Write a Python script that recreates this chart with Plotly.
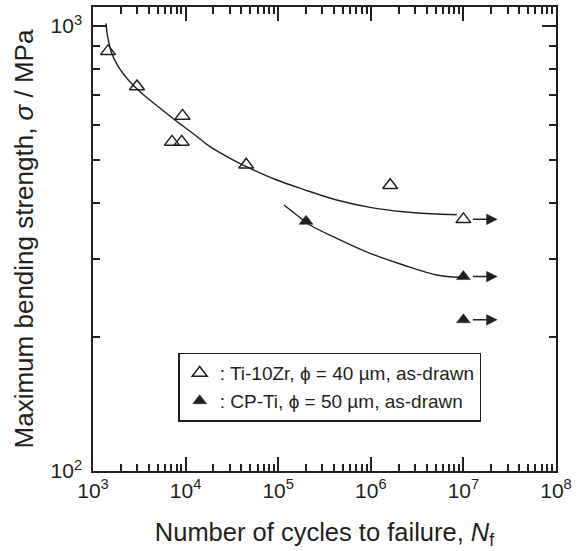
import plotly.graph_objects as go
import numpy as np

# ---- data ----
ti_cycles = [1452, 2987, 7130, 9080, 9260, 45100, 1.62e6, 1.0e7]
ti_strength = [877, 731, 549, 549, 628, 487.5, 438.5, 367.7]

cp_cycles = [2.0e5, 1.0e7, 1.0e7]
cp_strength = [364, 273.5, 218.7]

# fitted curves
ti_fit_cycles = [1382, 1441, 1592, 1876, 2406, 3357, 5073, 7685, 12630, 18340,
                 30170, 53840, 96340, 186700, 428200, 980400, 2.244e6, 5.149e6, 8.465e6]
ti_fit_strength = [1014, 946, 868, 810, 756, 706, 658.6, 614.9, 568.9, 535.5,
                   504.3, 474.8, 450.8, 429.6, 406.4, 391.3, 382.5, 378.0, 376.6]

cp_fit_cycles = [115500, 158400, 220500, 428200, 980400, 2.244e6, 5.149e6, 9.19e6]
cp_fit_strength = [396.0, 376.1, 357.1, 333.3, 308.5, 290.4, 275.8, 272.5]

# run-out arrows (start cycles, end cycles, strength)
runout_start = [1.0e7, 1.0e7, 1.0e7]
runout_end = [2.34e7, 2.34e7, 2.34e7]
runout_strength = [367.7, 273.5, 218.7]

x_major = [1e3, 1e4, 1e5, 1e6, 1e7, 1e8]
y_major = [100, 1000]

ink = "#231F20"
font = "Liberation Sans, Arial, sans-serif"

fig = go.Figure()

fig.add_trace(go.Scatter(x=ti_fit_cycles, y=ti_fit_strength, mode="lines",
                         line=dict(color=ink, width=1.4, shape="spline", smoothing=1.0),
                         showlegend=False, hoverinfo="skip"))
fig.add_trace(go.Scatter(x=cp_fit_cycles, y=cp_fit_strength, mode="lines",
                         line=dict(color=ink, width=1.4, shape="spline", smoothing=1.0),
                         showlegend=False, hoverinfo="skip"))

fig.add_trace(go.Scatter(x=ti_cycles, y=ti_strength, mode="markers",
                         name=": Ti-10Zr, \u03d5 = 40 \u00b5m, as-drawn",
                         marker=dict(symbol="triangle-up-open", size=13, color=ink,
                                     line=dict(width=1.5, color=ink))))
fig.add_trace(go.Scatter(x=cp_cycles, y=cp_strength, mode="markers",
                         name=": CP-Ti, \u03d5 = 50 \u00b5m, as-drawn",
                         marker=dict(symbol="triangle-up", size=12, color=ink,
                                     line=dict(width=0.5, color=ink))))

for xs, xe, s in zip(runout_start, runout_end, runout_strength):
    fig.add_annotation(x=np.log10(xe), y=np.log10(s), ax=np.log10(xs), ay=np.log10(s),
                       xref="x", yref="y", axref="x", ayref="y", text="",
                       showarrow=True, arrowhead=2, arrowsize=1.5, arrowwidth=1.5,
                       arrowcolor=ink, startstandoff=8)

minor_x = [m * 10 ** d for d in range(3, 8) for m in range(2, 10)]
minor_y = [m * 100 for m in range(2, 10)]

fig.update_xaxes(type="log", range=[3, 8], tickvals=x_major,
                 ticktext=["10<sup>%d</sup>" % int(np.log10(v)) for v in x_major],
                 ticks="inside", ticklen=14, tickwidth=1.5, tickcolor=ink,
                 showline=True, linewidth=1.5, linecolor=ink, mirror="ticks",
                 showgrid=False, zeroline=False, automargin=False,
                 minor=dict(tickvals=minor_x, ticks="inside", ticklen=7,
                            tickwidth=1.5, tickcolor=ink, showgrid=False),
                 tickfont=dict(family=font, size=21, color=ink),
                 title=dict(text="Number of cycles to failure, <i>N</i><sub>f</sub>",
                            font=dict(family=font, size=25.5, color=ink), standoff=22))
fig.update_yaxes(type="log", range=[2, 3.0427], tickvals=y_major,
                 ticktext=["10<sup>%d</sup>" % int(np.log10(v)) for v in y_major],
                 ticks="inside", ticklen=14, tickwidth=1.5, tickcolor=ink,
                 showline=True, linewidth=1.5, linecolor=ink, mirror="ticks",
                 showgrid=False, zeroline=False, automargin=False,
                 ticklabelstandoff=5,
                 minor=dict(tickvals=minor_y, ticks="inside", ticklen=7,
                            tickwidth=1.5, tickcolor=ink, showgrid=False),
                 tickfont=dict(family=font, size=21, color=ink),
                 title=dict(text="Maximum bending strength, <i>\u03c3</i> / MPa",
                            font=dict(family=font, size=26, color=ink), standoff=9))

fig.update_layout(
    width=588, height=551,
    margin=dict(l=93, r=32, t=7, b=80),
    plot_bgcolor="white", paper_bgcolor="white",
    font=dict(family=font, color=ink),
    legend=dict(x=0.184, y=0.255, xanchor="left", yanchor="top",
                bgcolor="white", bordercolor=ink, borderwidth=1.5,
                font=dict(family=font, size=19, color=ink),
                itemwidth=30, tracegroupgap=0),
)

fig.write_html("out.html", config={"displayModeBar": False},
               post_script="document.body.style.margin='0';document.body.style.overflow='hidden';")
